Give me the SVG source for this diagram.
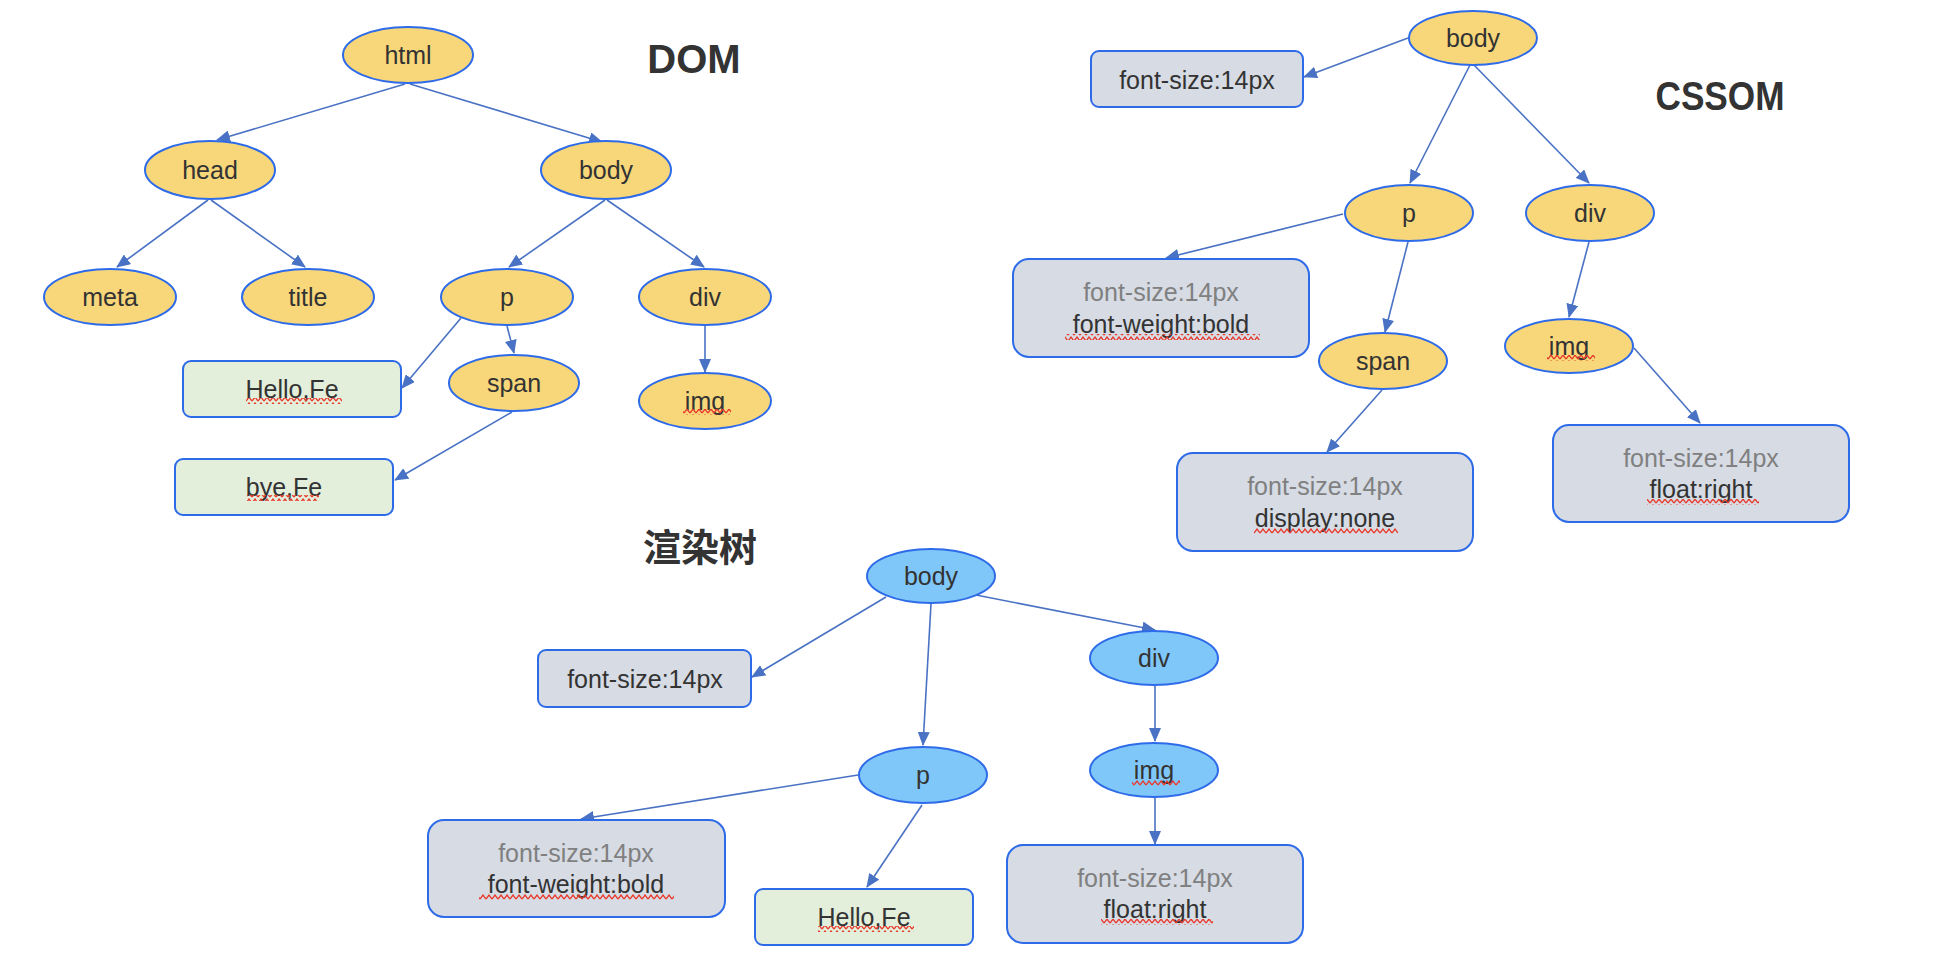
<svg xmlns="http://www.w3.org/2000/svg" width="1936" height="964" viewBox="0 0 1936 964">
<defs>
<style>
.y{fill:#F8D77B;stroke:#2E6BE8;stroke-width:2}
.b{fill:#80C7F9;stroke:#2E6BE8;stroke-width:2}
.g{fill:#D6DBE4;stroke:#2E6BE8;stroke-width:2}
.gr{fill:#E3EEDB;stroke:#2E6BE8;stroke-width:2}
.t{font-family:"Liberation Sans",Arial,sans-serif;font-size:25px;fill:#333;text-anchor:middle}
.m{fill:#808080}
.h{font-family:"Liberation Sans","Noto Sans CJK SC",sans-serif;font-weight:bold;font-size:40px;fill:#333;text-anchor:middle}
.e line{stroke:#4A72C4;stroke-width:1.6;marker-end:url(#a)}
.w{fill:url(#z)}
</style>
<marker id="a" markerUnits="userSpaceOnUse" markerWidth="14" markerHeight="12" refX="13" refY="6" orient="auto">
<path d="M0,0 L14,6 L0,12 Z" fill="#4A72C4"/>
</marker>
<pattern id="z" patternUnits="userSpaceOnUse" width="6" height="6">
<path d="M0,5 L3,1 L6,5" fill="none" stroke="#E8392B" stroke-width="1.3"/>
</pattern>
</defs>
<rect width="1936" height="964" fill="#fff"/>

<g id="titles">
<text class="h" x="694" y="73">DOM</text>
<text class="h" x="1720" y="110" font-size="38" textLength="129" lengthAdjust="spacingAndGlyphs">CSSOM</text>
<text class="h" x="700" y="561" style="font-family:'Noto Sans CJK SC',sans-serif;font-size:38px">渲染树</text>
</g>

<g id="connectors" class="e">
<line x1="405" y1="84" x2="217" y2="140"/>
<line x1="410" y1="84" x2="602" y2="142"/>
<line x1="208" y1="200" x2="117" y2="267"/>
<line x1="211" y1="200" x2="305" y2="267"/>
<line x1="605" y1="200" x2="509" y2="267"/>
<line x1="607" y1="200" x2="704" y2="267"/>
<line x1="461" y1="318" x2="402" y2="388"/>
<line x1="507" y1="326" x2="514" y2="353"/>
<line x1="512" y1="412" x2="395" y2="480"/>
<line x1="705" y1="326" x2="705" y2="372"/>

<line x1="1408" y1="38" x2="1304" y2="77"/>
<line x1="1470" y1="65" x2="1410" y2="183"/>
<line x1="1474" y1="65" x2="1589" y2="183"/>
<line x1="1343" y1="214" x2="1166" y2="258"/>
<line x1="1408" y1="242" x2="1385" y2="332"/>
<line x1="1382" y1="390" x2="1327" y2="452"/>
<line x1="1589" y1="242" x2="1569" y2="317"/>
<line x1="1634" y1="348" x2="1700" y2="423"/>

<line x1="886" y1="597" x2="752" y2="677"/>
<line x1="931" y1="604" x2="923" y2="745"/>
<line x1="976" y1="595" x2="1155" y2="630"/>
<line x1="858" y1="775" x2="581" y2="819"/>
<line x1="922" y1="805" x2="867" y2="887"/>
<line x1="1155" y1="686" x2="1155" y2="741"/>
<line x1="1155" y1="798" x2="1155" y2="844"/>
</g>

<!-- DOM -->
<g id="dom-html"><ellipse class="y" cx="408" cy="55" rx="65" ry="28"/><text class="t" x="408" y="64">html</text></g>
<g id="dom-head"><ellipse class="y" cx="210" cy="170" rx="65" ry="29"/><text class="t" x="210" y="179">head</text></g>
<g id="dom-body"><ellipse class="y" cx="606" cy="170" rx="65" ry="29"/><text class="t" x="606" y="179">body</text></g>
<g id="dom-meta"><ellipse class="y" cx="110" cy="297" rx="66" ry="28"/><text class="t" x="110" y="306">meta</text></g>
<g id="dom-title"><ellipse class="y" cx="308" cy="297" rx="66" ry="28"/><text class="t" x="308" y="306">title</text></g>
<g id="dom-p"><ellipse class="y" cx="507" cy="297" rx="66" ry="28"/><text class="t" x="507" y="306">p</text></g>
<g id="dom-div"><ellipse class="y" cx="705" cy="297" rx="66" ry="28"/><text class="t" x="705" y="306">div</text></g>
<g id="dom-span"><ellipse class="y" cx="514" cy="383" rx="65" ry="28"/><text class="t" x="514" y="392">span</text></g>
<g id="dom-img"><ellipse class="y" cx="705" cy="401" rx="66" ry="28"/><text class="t" x="705" y="410">img</text><rect class="w" x="683" y="409" width="48" height="6"/></g>
<g id="dom-hello"><rect class="gr" x="183" y="361" width="218" height="56" rx="8"/><text class="t" x="292" y="398">Hello,Fe</text><rect class="w" x="246" y="398" width="96" height="6"/></g>
<g id="dom-bye"><rect class="gr" x="175" y="459" width="218" height="56" rx="8"/><text class="t" x="284" y="496">bye,Fe</text><rect class="w" x="247" y="495" width="72" height="6"/></g>

<!-- CSSOM -->
<g id="css-body"><ellipse class="y" cx="1473" cy="38" rx="64" ry="27"/><text class="t" x="1473" y="47">body</text></g>
<g id="css-fs"><rect class="g" x="1091" y="51" width="212" height="56" rx="8"/><text class="t" x="1197" y="89">font-size:14px</text></g>
<g id="css-p"><ellipse class="y" cx="1409" cy="213" rx="64" ry="28"/><text class="t" x="1409" y="222">p</text></g>
<g id="css-div"><ellipse class="y" cx="1590" cy="213" rx="64" ry="28"/><text class="t" x="1590" y="222">div</text></g>
<g id="css-fw"><rect class="g" x="1013" y="259" width="296" height="98" rx="16"/><text class="t m" x="1161" y="301">font-size:14px</text><text class="t" x="1161" y="333">font-weight:bold</text><rect class="w" x="1065" y="334" width="195" height="6"/></g>
<g id="css-span"><ellipse class="y" cx="1383" cy="361" rx="64" ry="28"/><text class="t" x="1383" y="370">span</text></g>
<g id="css-img"><ellipse class="y" cx="1569" cy="346" rx="64" ry="27"/><text class="t" x="1569" y="355">img</text><rect class="w" x="1547" y="355" width="48" height="6"/></g>
<g id="css-display"><rect class="g" x="1177" y="453" width="296" height="98" rx="16"/><text class="t m" x="1325" y="495">font-size:14px</text><text class="t" x="1325" y="527">display:none</text><rect class="w" x="1254" y="528" width="144" height="6"/></g>
<g id="css-float"><rect class="g" x="1553" y="425" width="296" height="97" rx="16"/><text class="t m" x="1701" y="467">font-size:14px</text><text class="t" x="1701" y="498">float:right</text><rect class="w" x="1647" y="499" width="112" height="6"/></g>

<!-- Render tree -->
<g id="r-body"><ellipse class="b" cx="931" cy="576" rx="64" ry="27"/><text class="t" x="931" y="585">body</text></g>
<g id="r-fs"><rect class="g" x="538" y="650" width="213" height="57" rx="8"/><text class="t" x="645" y="688">font-size:14px</text></g>
<g id="r-div"><ellipse class="b" cx="1154" cy="658" rx="64" ry="27"/><text class="t" x="1154" y="667">div</text></g>
<g id="r-p"><ellipse class="b" cx="923" cy="775" rx="64" ry="28"/><text class="t" x="923" y="784">p</text></g>
<g id="r-img"><ellipse class="b" cx="1154" cy="770" rx="64" ry="27"/><text class="t" x="1154" y="779">img</text><rect class="w" x="1132" y="780" width="48" height="6"/></g>
<g id="r-fw"><rect class="g" x="428" y="820" width="297" height="97" rx="16"/><text class="t m" x="576" y="862">font-size:14px</text><text class="t" x="576" y="893">font-weight:bold</text><rect class="w" x="479" y="894" width="195" height="6"/></g>
<g id="r-hello"><rect class="gr" x="755" y="889" width="218" height="56" rx="8"/><text class="t" x="864" y="926">Hello,Fe</text><rect class="w" x="818" y="926" width="96" height="6"/></g>
<g id="r-float"><rect class="g" x="1007" y="845" width="296" height="98" rx="16"/><text class="t m" x="1155" y="887">font-size:14px</text><text class="t" x="1155" y="918">float:right</text><rect class="w" x="1101" y="919" width="112" height="6"/></g>
</svg>
